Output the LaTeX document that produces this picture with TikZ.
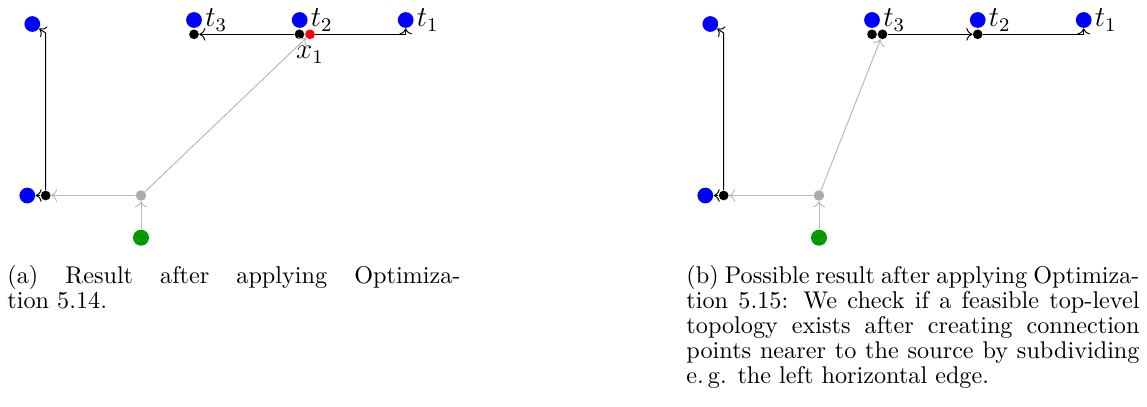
\documentclass[tikz,border=0pt]{standalone}
\usetikzlibrary{arrows.meta,positioning,calc}

\begin{document}
\begin{tikzpicture}[
    x=0.4132pt, y=-0.4132pt,
    terminal/.style={circle, fill=blue, inner sep=0pt, minimum size=6.5pt},
    source/.style={circle, fill=green!60!black, inner sep=0pt, minimum size=6.6pt},
    steiner/.style={circle, fill=black!33, inner sep=0pt, minimum size=4.35pt},
    conn/.style={circle, fill=black, inner sep=0pt, minimum size=4pt},
    newconn/.style={conn, fill=red},
    tlabel/.style={font=\large, inner sep=1pt},
    wire/.style={->, black},
    grey wire/.style={->, black!28},
    caption/.style={anchor=north west, inner sep=0pt, text width=187.2pt,
      align=justify, font=\fontsize{10}{10.3}\selectfont}
]
\useasboundingbox (0,0) rectangle (1147,406);

% (a) after Optimization 5.14
\node[terminal] (aTL) at (32.3,24) {};
\node[terminal] (aBL) at (27.3,195.5) {};
\node[conn] (aJ) at (45.7,195.5) {};
\node[steiner] (aG) at (141,195.5) {};
\node[source] (aS) at (141,237.7) {};
\node[terminal, label={[tlabel]right:$t_3$}] (at3) at (194,20) {};
\node[terminal, label={[tlabel]right:$t_2$}] (at2) at (299.7,20) {};
\node[terminal, label={[tlabel]right:$t_1$}] (at1) at (405.7,20) {};
\node[conn] (ac3) at (194,34.3) {};
\node[conn] (ac2) at (299.5,34.3) {};
\node[newconn, label={[tlabel, label distance=1.5pt]below:$x_1$}] (ax1) at (310,34.3) {};
\coordinate (aK) at (45.7,33);
\draw[grey wire] (aS) -- (aG);
\draw[grey wire] (aG) -- (aJ);
\draw[grey wire] (aG) -- (ax1);
\draw[wire] (aJ) -- (aBL);
\draw[wire] (aJ) -- (aK) -- (aTL);
\draw[wire] (ac2) -- (ac3);
\draw[wire] (ax1) -| (at1);
\node[caption] (capa) at (7,265) {(a) Result after applying Optimization~5.14.};

% (b) after Optimization 5.15
\begin{scope}[shift={(678,0)}]
\node[terminal] (bTL) at (32.3,24) {};
\node[terminal] (bBL) at (27.3,195.5) {};
\node[conn] (bJ) at (45.7,195.5) {};
\node[steiner] (bG) at (141,195.5) {};
\node[source] (bS) at (141,237.7) {};
\node[terminal, label={[tlabel]right:$t_3$}] (bt3) at (194,20) {};
\node[terminal, label={[tlabel]right:$t_2$}] (bt2) at (299.7,20) {};
\node[terminal, label={[tlabel]right:$t_1$}] (bt1) at (405.7,20) {};
\node[conn] (bc3) at (194,34.3) {};
\node[conn] (bx1) at (204.5,34.3) {};
\node[conn] (bc2) at (299.7,34.3) {};
\coordinate (bK) at (45.7,33);
\draw[grey wire] (bS) -- (bG);
\draw[grey wire] (bG) -- (bJ);
\draw[grey wire] (bG) -- (bx1);
\draw[wire] (bJ) -- (bBL);
\draw[wire] (bJ) -- (bK) -- (bTL);
\draw[wire] (bx1) -- (bc2);
\draw[wire] (bc2) -| (bt1);
\end{scope}
\node[caption] (capb) at (686,265) {(b) Possible result after applying Optimization~5.15: We check if a feasible top-level topology exists after creating connection points nearer to the source by subdividing e.\,g. the left horizontal edge.};
\end{tikzpicture}
\end{document}
